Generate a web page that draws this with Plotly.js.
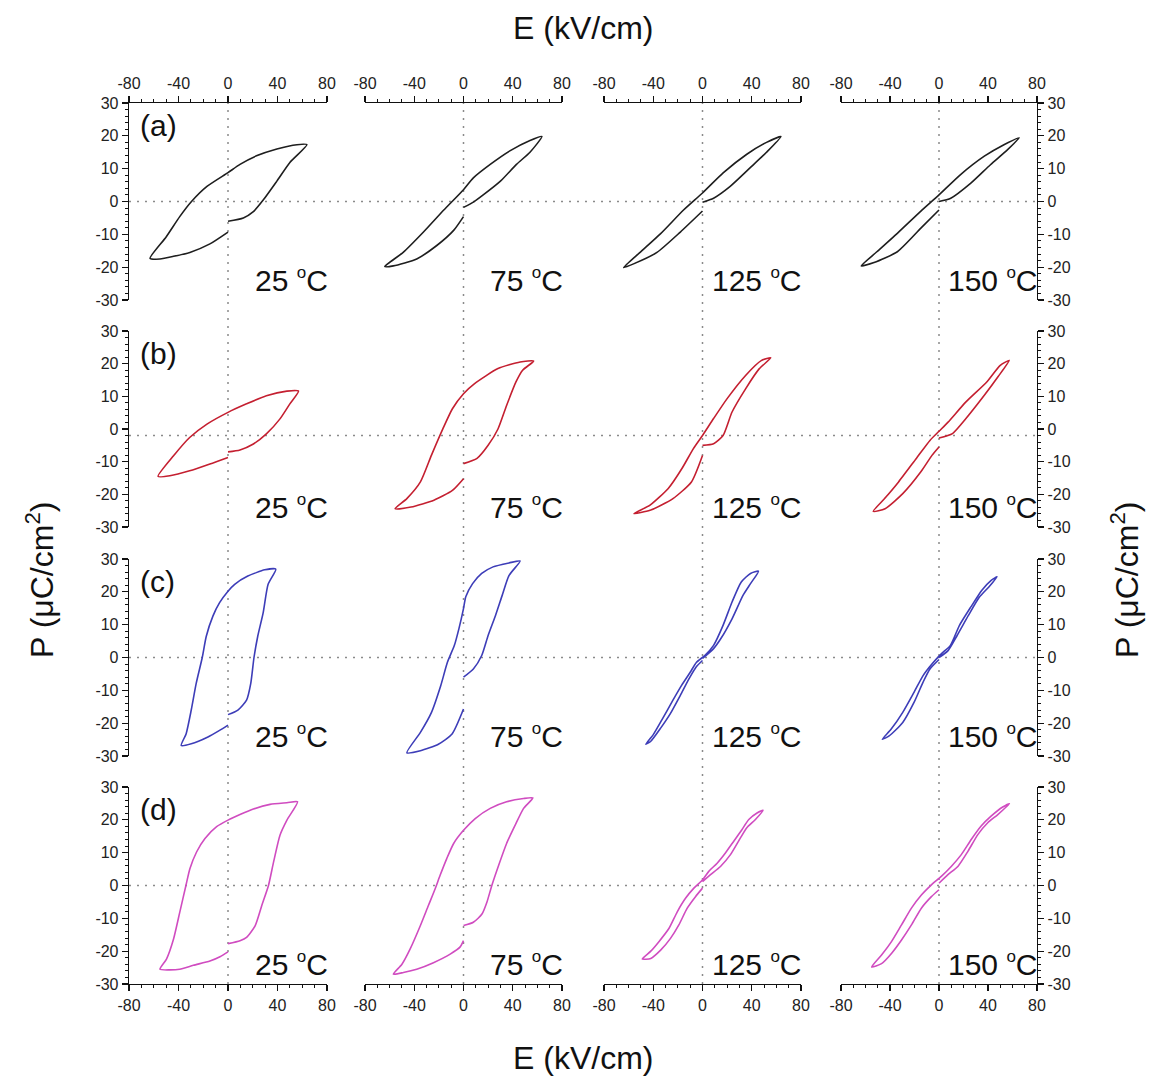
<!DOCTYPE html>
<html><head><meta charset="utf-8">
<script src="https://cdn.plot.ly/plotly-3.0.1.min.js"></script>
<style>html,body{margin:0;padding:0;background:#fff}#chart{width:1155px;height:1080px}</style>
</head><body><div id="chart"></div>
<script>
// ---------- tick labels / categories ----------
const temperatures = ['25', '75', '125', '150'];
const panelLetters = ['(a)', '(b)', '(c)', '(d)'];
const eTickVals = [-80, -40, 0, 40, 80];
const eTickText = ['-80', '-40', '0', '40', '80'];
const pTickVals = [-30, -20, -10, 0, 10, 20, 30];
const pTickText = ['-30', '-20', '-10', '0', '10', '20', '30'];
const zeroLineP = [0, -2, 0, 0];

// ---------- row (a) ----------
const E_a25 = [0, 12.4, 20.5, 28.6, 39.5, 50, 63.8, 55.7, 39.5, 23, 9.7, 0, -17, -29.5, -39, -50, -63, -55, -44, -30.8, -14.6, 0];
const P_a25 = [-6, -5, -3.1, 0.5, 6.2, 11.9, 17.3, 17.3, 16, 13.9, 11.3, 8.8, 4.6, 0, -4.6, -10.8, -17.3, -17.5, -16.7, -15.5, -12.9, -9.3];
const E_a75 = [0, 8, 16, 30, 43, 54, 63.7, 54, 38, 21.7, 8, 0, -16, -32.5, -49, -64, -57, -38, -21.7, -8, 0];
const P_a75 = [-1.8, -0.2, 2, 6.2, 11.3, 15, 19.8, 18.6, 15.5, 11.3, 7.2, 3.6, -2.6, -9.3, -15.5, -19.8, -19.6, -17.5, -13.4, -8.8, -4.6];
const E_a125 = [0, 9, 22.5, 38.8, 52, 63.7, 52, 36, 17, 0, -15.4, -34, -50.7, -64, -56, -37, -18, 0];
const P_a125 = [-0.2, 1, 4.6, 10.3, 15, 19.8, 18, 14.4, 8.8, 2.6, -2.6, -9.8, -15.5, -20.1, -19, -15.5, -9.3, -2.9];
const E_a150 = [0, 9.6, 26, 42, 56, 65.4, 53, 37, 17.6, 0, -15, -34, -50.7, -63.5, -53, -34, -15, 0];
const P_a150 = [0, 1, 5.6, 11.2, 15.8, 19.4, 17.3, 13.8, 8.2, 2, -3, -9.7, -15.3, -19.6, -18.6, -15.3, -8.2, -2.6];

// ---------- row (b) ----------
const E_b25 = [0, 9.7, 20.5, 31, 42, 50, 57, 47.6, 31, 15, 0, -17, -31, -44, -56.5, -47, -31, -14.6, 0];
const P_b25 = [-7, -6.4, -4.6, -1.5, 3.1, 7.7, 11.6, 11.6, 10.2, 7.7, 5.1, 1.5, -2.6, -8.2, -14.5, -14.3, -12.8, -10.7, -8.7];
const E_b75 = [0, 11, 20, 28, 35, 42.6, 48, 57, 46, 28, 9, 0, -9, -16.7, -26, -35, -46, -55.6, -42.6, -24, -9, 0];
const P_b75 = [-10.6, -9, -5, 0, 7.2, 14.4, 18, 20.8, 20.5, 18.5, 13.9, 10.8, 6.2, 0.1, -8, -16.2, -21.3, -24.4, -23.9, -21.8, -18.8, -15.2];
const E_b125 = [0, 9, 16.7, 24, 35, 46, 55.5, 48, 35, 20, 9, 0, -7.4, -16.7, -27.8, -42.6, -55.6, -42.6, -24, -9, 0];
const P_b125 = [-5, -4.5, -2, 5.2, 12.3, 18.4, 21.8, 21, 16.4, 9.3, 3.2, -2, -6, -12.1, -18.2, -23.3, -25.9, -24.9, -21.3, -16.2, -8.1];
const E_b150 = [0, 11, 22, 37, 48, 57.4, 50, 39, 22, 7.4, 0, -7.4, -18.5, -33, -44.4, -53.7, -44, -29.6, -14.8, -5.6, 0];
const P_b150 = [-2.75, -1.4, 3.2, 10.3, 15.9, 21, 19.5, 14.4, 8.3, 2.1, -0.7, -3.5, -9, -16.2, -21.3, -25.2, -24.4, -19.8, -13.1, -8, -5.5];

// ---------- row (c) ----------
const E_c25 = [0, 8, 15, 18.4, 21, 24, 28.4, 32.4, 38.6, 29.7, 16, 5.4, 0, -6.8, -12.2, -17.6, -20.8, -25.7, -29.7, -33.8, -37.8, -29.7, -16.2, -6.8, 0];
const P_c25 = [-17.4, -16, -13, -7.9, 0, 6.4, 13.6, 22.3, 26.9, 26.7, 24.8, 22.3, 20.2, 16.7, 12.6, 6.4, 0, -7.9, -16, -23.2, -26.8, -26.3, -24.2, -22.2, -20.6];
const E_c75 = [0, 8, 14.8, 20, 26, 31.5, 37, 46, 37, 24, 14.8, 7.4, 1.85, 0, -3.7, -7.4, -13, -18.5, -26, -35, -46, -35, -20.4, -9.3, 0];
const P_c75 = [-6, -3.5, 0.6, 6.7, 12.8, 19, 25, 29.4, 28.8, 27.6, 25.6, 22.5, 18.5, 14.9, 8.8, 3.7, -1.4, -8.6, -16.7, -22.8, -29, -28.4, -26.4, -23.3, -15.7];
const E_c125 = [0, 9, 14.8, 24, 33, 39, 45.5, 39, 31.5, 24, 16.7, 9, 1.85, -5, -10, -17, -24, -33, -40, -46, -42, -34, -26, -18, -11, -5, 0];
const P_c125 = [-0.3, 2.7, 5.7, 11.8, 19, 22.5, 26.3, 25.6, 23, 16.9, 9.8, 3.7, 0.6, -1.5, -4.5, -8.5, -13, -19, -23.5, -26.4, -25.5, -21.5, -17, -11.5, -6.5, -2.8, -0.9];
const E_c150 = [0, 7.4, 14.8, 24, 33, 40.7, 47.4, 42.6, 35, 26, 16.7, 9.3, 1.85, -5.6, -13, -20.4, -29.6, -39, -46.3, -40.7, -29.6, -20.4, -13, -7.4, 0];
const P_c150 = [0, 2.1, 6.7, 12.8, 18.4, 21.5, 24.6, 23.5, 20.5, 15.4, 9.8, 3.7, 1.1, -1.9, -5.5, -10.6, -16.7, -21.8, -24.9, -23.9, -19.8, -13.7, -7.5, -3.5, -0.6];

// ---------- row (d) ----------
const E_d25 = [0, 9.7, 15, 22, 27.3, 32.7, 36.8, 42, 47.6, 56.2, 47.6, 34, 20.5, 9.7, 0, -9.2, -18.6, -25.4, -30.8, -34, -39, -44, -49.7, -55, -47, -39, -28, -14.6, -6.5, 0];
const P_d25 = [-17.7, -16.8, -15.8, -12.2, -6.1, 0, 7.1, 15.3, 19.9, 25.5, 25.2, 24.7, 23.3, 21.6, 19.9, 17.9, 14.3, 10.2, 5.1, 0, -8.2, -16.3, -22.4, -25.5, -25.7, -25.5, -24.3, -23, -21.7, -20.2];
const E_d75 = [0, 8, 15, 19, 23, 28.5, 35, 42, 48.8, 56.4, 48.8, 35, 21.7, 9.5, 0, -8, -13.6, -19, -23, -28.5, -35, -43.4, -50, -57, -48.8, -38, -24.4, -10.8, -2.7, 0];
const P_d75 = [-12.2, -11.2, -8.7, -5.1, 0, 6.1, 12.8, 18.4, 23.5, 26.7, 26.5, 25.5, 23.5, 20.4, 16.8, 12.8, 8.2, 3.1, -1, -6.1, -12.2, -19.4, -24, -27, -26.5, -25.5, -23.5, -20.9, -18.7, -16.8];
const E_d125 = [0, 6.5, 14.6, 22.7, 30.8, 36, 43, 49.2, 44.3, 37.6, 32, 25.4, 18.6, 11.9, 5.1, 0, -7, -13.8, -20.5, -27.3, -35.4, -42, -49, -42, -34, -26, -19.2, -12.4, -5.7, 0];
const P_d125 = [1.2, 3.3, 5.8, 9.4, 14.5, 17.6, 20.1, 22.9, 22.1, 20.1, 17, 13.5, 9.9, 6.8, 4.3, 1.7, -0.8, -3.9, -8, -13.1, -17.1, -20, -22.4, -22.2, -19.7, -16.1, -12, -6.9, -3.4, -0.8];
const E_d150 = [0, 7.3, 15.4, 23.6, 31.7, 39.8, 48, 57.5, 52, 42.5, 34.4, 26.3, 18.2, 10, 1.9, -6.2, -14.4, -22.5, -30.6, -38.8, -46.9, -55, -46.9, -38.8, -30.6, -22.5, -14.4, -6.2, 0];
const P_d150 = [0.7, 3.3, 5.8, 10.4, 15.5, 19.1, 21.6, 24.9, 23.9, 21.1, 18.1, 14, 9.4, 5.8, 2.8, 0.2, -2.9, -6.9, -12, -17.1, -21.2, -24.8, -23.8, -20.7, -16.6, -12, -6.9, -3.4, -1.3];

const rowColors = ['#1e1e1e', '#c41f30', '#3d3db8', '#d04cc0'];
const loopE = [[E_a25, E_a75, E_a125, E_a150], [E_b25, E_b75, E_b125, E_b150], [E_c25, E_c75, E_c125, E_c150], [E_d25, E_d75, E_d125, E_d150]];
const loopP = [[P_a25, P_a75, P_a125, P_a150], [P_b25, P_b75, P_b125, P_b150], [P_c25, P_c75, P_c125, P_c150], [P_d25, P_d75, P_d125, P_d150]];

// ---------- geometry (pixels) ----------
const W = 1155, H = 1080;
const L = 129, R = 1037, T = 103, B = 984;
const colPx = [[129, 327], [365, 562], [604, 801], [841, 1037]];
const rowPx = [[103, 300], [331, 527], [559, 756], [787, 984]];
const fx = px => (px - L) / (R - L);
const fy = py => (B - py) / (B - T);

const FONT = 'Liberation Sans, Arial, sans-serif';
const traces = [];
const layout = {
  width: W, height: H,
  margin: {l: L, r: W - R, t: T, b: H - B, pad: 0},
  paper_bgcolor: '#fff', plot_bgcolor: 'rgba(0,0,0,0)',
  showlegend: false,
  font: {family: FONT, color: '#222', size: 16},
  shapes: [], annotations: []
};

for (let r = 0; r < 4; r++) {
  for (let c = 0; c < 4; c++) {
    const i = r * 4 + c + 1;
    const xs = i === 1 ? '' : String(i);
    traces.push({
      x: loopE[r][c], y: loopP[r][c], type: 'scatter', mode: 'lines',
      xaxis: 'x' + xs, yaxis: 'y' + xs, hoverinfo: 'skip',
      line: {color: rowColors[r], width: 1.6, shape: 'spline', smoothing: 0.6}
    });
    const xa = {
      domain: [fx(colPx[c][0]), fx(colPx[c][1])], range: [-80, 80], anchor: 'y' + xs,
      showgrid: false, zeroline: false, fixedrange: true
    };
    if (r === 0 || r === 3) {
      Object.assign(xa, {
        side: r === 0 ? 'top' : 'bottom', showline: true, linecolor: '#111', linewidth: 1.3,
        ticks: 'outside', ticklen: 6, tickwidth: 1.2, tickcolor: '#111',
        tickmode: 'array', tickvals: eTickVals, ticktext: eTickText,
        tickfont: {family: FONT, size: 16, color: '#222'},
        minor: {ticks: 'outside', ticklen: 3, tickwidth: 1, tickcolor: '#111', tickmode: 'linear', tick0: 0, dtick: 10}
      });
    } else {
      Object.assign(xa, {showline: false, showticklabels: false, ticks: ''});
    }
    layout['xaxis' + xs] = xa;
    const ya = {
      domain: [fy(rowPx[r][1]), fy(rowPx[r][0])], range: [-30, 30], anchor: 'x' + xs,
      showgrid: false, zeroline: false, fixedrange: true
    };
    if (c === 0 || c === 3) {
      Object.assign(ya, {
        side: c === 0 ? 'left' : 'right', showline: true, linecolor: '#111', linewidth: 1.3,
        ticks: 'outside', ticklen: 6, tickwidth: 1.2, tickcolor: '#111',
        tickmode: 'array', tickvals: pTickVals, ticktext: pTickText,
        tickfont: {family: FONT, size: 16, color: '#222'},
        minor: {ticks: 'outside', ticklen: 3, tickwidth: 1, tickcolor: '#111', tickmode: 'linear', tick0: 0, dtick: 2}
      });
    } else {
      Object.assign(ya, {showline: false, showticklabels: false, ticks: ''});
    }
    layout['yaxis' + xs] = ya;

    layout.annotations.push({
      xref: 'x' + xs, yref: 'y' + xs, x: 80, y: -24, xanchor: 'right', yanchor: 'middle', xshift: 3,
      text: temperatures[c] + ' <sup><span style="font-size:17px">o</span></sup>C', showarrow: false,
      font: {family: FONT, size: 30, color: '#111'}
    });
    if (c === 0) {
      layout.annotations.push({
        xref: 'x' + xs, yref: 'y' + xs, x: -73, y: 23, xanchor: 'left', yanchor: 'middle',
        text: panelLetters[r], showarrow: false, font: {family: FONT, size: 30, color: '#111'}
      });
    }
  }
}

const dotLine = {color: '#8a8a8a', width: 1.5, dash: '2px,6px'};
for (let c = 0; c < 4; c++) {
  layout.shapes.push({type: 'line', layer: 'below', xref: c === 0 ? 'x' : 'x' + (c + 1), yref: 'paper',
    x0: 0, x1: 0, y0: 0, y1: 1, line: dotLine});
}
for (let r = 0; r < 4; r++) {
  const ys = r === 0 ? 'y' : 'y' + (r * 4 + 1);
  layout.shapes.push({type: 'line', layer: 'below', xref: 'paper', yref: ys,
    x0: 0, x1: 1, y0: zeroLineP[r], y1: zeroLineP[r], line: dotLine});
}

const titleFont = {family: FONT, size: 32, color: '#111'};
layout.annotations.push(
  {xref: 'paper', yref: 'paper', x: fx(583), y: fy(28), xanchor: 'center', yanchor: 'middle', text: 'E (kV/cm)', showarrow: false, font: titleFont},
  {xref: 'paper', yref: 'paper', x: fx(583), y: fy(1058), xanchor: 'center', yanchor: 'middle', text: 'E (kV/cm)', showarrow: false, font: titleFont},
  {xref: 'paper', yref: 'paper', x: fx(40), y: fy(580), xanchor: 'center', yanchor: 'middle', textangle: -90, text: 'P (μC/cm<sup>2</sup>)', showarrow: false, font: titleFont},
  {xref: 'paper', yref: 'paper', x: fx(1125), y: fy(580), xanchor: 'center', yanchor: 'middle', textangle: -90, text: 'P (μC/cm<sup>2</sup>)', showarrow: false, font: titleFont}
);

Plotly.newPlot('chart', traces, layout, {staticPlot: true, displayModeBar: false});
</script>
</body></html>
